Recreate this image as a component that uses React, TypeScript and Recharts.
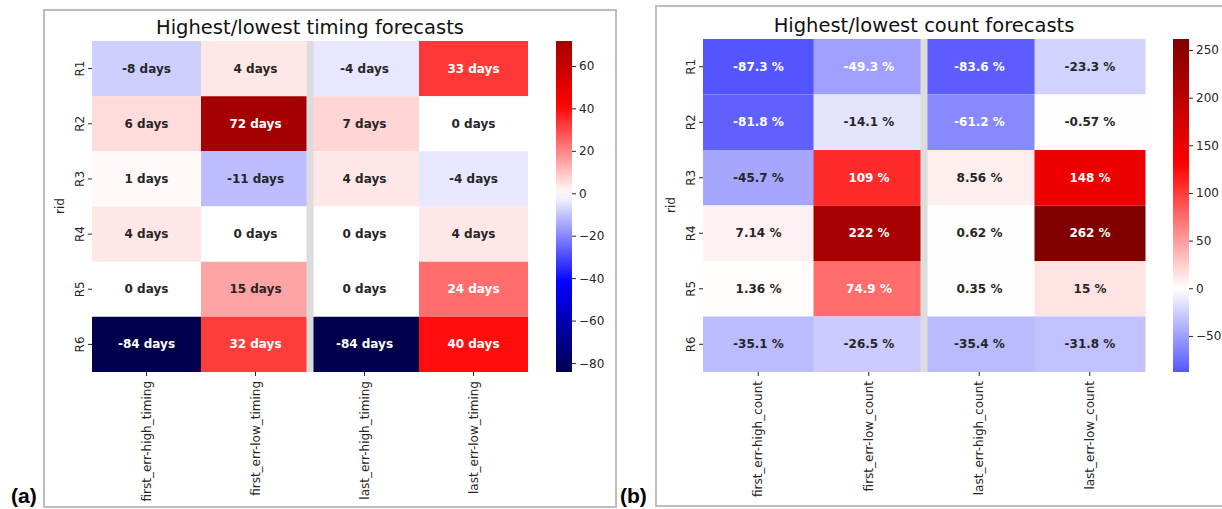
import React from "react";
import { BarChart, Bar, XAxis, YAxis, Cell, LabelList, ReferenceLine } from "recharts";

const ROWS = ["R1", "R2", "R3", "R4", "R5", "R6"];

const TIMING_COLS = ["first_err-high_timing", "first_err-low_timing", "last_err-high_timing", "last_err-low_timing"];
const firstHighTiming = [-8, 6, 1, 4, 0, -84];
const firstLowTiming = [4, 72, -11, 0, 15, 32];
const lastHighTiming = [-4, 7, 4, 0, 0, -84];
const lastLowTiming = [33, 0, -4, 4, 24, 40];
const TIMING_TICKS = [-80, -60, -40, -20, 0, 20, 40, 60];

const COUNT_COLS = ["first_err-high_count", "first_err-low_count", "last_err-high_count", "last_err-low_count"];
const firstHighCount = [-87.3, -81.8, -45.7, 7.14, 1.36, -35.1];
const firstLowCount = [-49.3, -14.1, 109, 222, 74.9, -26.5];
const lastHighCount = [-83.6, -61.2, 8.56, 0.62, 0.35, -35.4];
const lastLowCount = [-23.3, -0.57, 148, 262, 15, -31.8];
const COUNT_TICKS = [-50, 0, 50, 100, 150, 200, 250];

const FONT = "'DejaVu Sans', sans-serif";
const DARK = "#262626";

// matplotlib "seismic"
const SEISMIC = [
  [0, 0, 0.3],
  [0, 0, 1],
  [1, 1, 1],
  [1, 0, 0],
  [0.5, 0, 0],
];

function seismic(t: number) {
  const tt = Math.max(0, Math.min(1, t)) * 4;
  const i = Math.min(3, Math.floor(tt));
  const f = tt - i;
  const a = SEISMIC[i];
  const b = SEISMIC[i + 1];
  return a.map((c, k) => c + (b[k] - c) * f);
}

// seaborn-style centred norm (center = 0)
function colorFor(v: number, vmin: number, vmax: number) {
  const vr = Math.max(Math.abs(vmin), Math.abs(vmax));
  return seismic((v + vr) / (2 * vr));
}

const toCss = (c: number[]) =>
  `rgb(${c.map((x) => Math.round(x * 255)).join(",")})`;

function textColor(c: number[]) {
  const lin = c.map((x) => (x <= 0.03928 ? x / 12.92 : Math.pow((x + 0.055) / 1.055, 2.4)));
  const lum = 0.2126 * lin[0] + 0.7152 * lin[1] + 0.0722 * lin[2];
  return lum > 0.408 ? DARK : "#ffffff";
}

const minus = (v: number) => (v < 0 ? `\u2212${Math.abs(v)}` : `${v}`);
const fmtDays = (v: number) => `${v} days`;
const fmtPct = (v: number) => `${parseFloat(v.toPrecision(3))} %`;

function buildTable(cols: string[], series: number[][]) {
  return cols.map((name, ci) => {
    const row: Record<string, any> = { name };
    ROWS.forEach((r, ri) => {
      row[r] = series[ci][ri];
      row[r + "_u"] = 1;
    });
    return row;
  });
}

const timingData = buildTable(TIMING_COLS, [firstHighTiming, firstLowTiming, lastHighTiming, lastLowTiming]);
const countData = buildTable(COUNT_COLS, [firstHighCount, firstLowCount, lastHighCount, lastLowCount]);

const XTick = (props: any) => {
  const { x, y, payload } = props;
  return (
    <text
      transform={`translate(${x},${y + 3}) rotate(-90)`}
      textAnchor="end"
      dominantBaseline="central"
      fontSize={12}
      fontFamily={FONT}
      fill={DARK}
    >
      {payload.value}
    </text>
  );
};

const YTick = (props: any) => {
  const { x, y, payload } = props;
  return (
    <text
      transform={`translate(${x - 6},${y}) rotate(-90)`}
      textAnchor="middle"
      dominantBaseline="central"
      fontSize={12}
      fontFamily={FONT}
      fill={DARK}
    >
      {ROWS[Math.floor(payload.value)]}
    </text>
  );
};

const CbTick = (props: any) => {
  const { x, y, payload } = props;
  return (
    <text x={x} y={y} textAnchor="start" dominantBaseline="central" fontSize={12} fontFamily={FONT} fill={DARK}>
      {minus(payload.value)}
    </text>
  );
};

function Heatmap({
  data, vmin, vmax, fmt, width, height, margin, split,
}: {
  data: Record<string, any>[];
  vmin: number;
  vmax: number;
  fmt: (v: number) => string;
  width: number;
  height: number;
  margin: { top: number; right: number; bottom: number; left: number };
  split: string;
}) {
  return (
    <BarChart width={width} height={height} data={data} margin={margin} barCategoryGap={0} barGap={0}>
      <XAxis
        dataKey="name"
        interval={0}
        axisLine={false}
        tickSize={4}
        tickMargin={2}
        tickLine={{ stroke: DARK }}
        tick={XTick}
        height={130}
      />
      <YAxis
        type="number"
        domain={[0, 6]}
        reversed
        ticks={[0.5, 1.5, 2.5, 3.5, 4.5, 5.5]}
        interval={0}
        axisLine={false}
        tickSize={4}
        tickMargin={2}
        tickLine={{ stroke: DARK }}
        tick={YTick}
        width={40}
      />
      {ROWS.map((r) => (
        <Bar key={r} dataKey={r + "_u"} stackId="cells" isAnimationActive={false}>
          {data.map((d, i) => (
            <Cell key={i} fill={toCss(colorFor(d[r], vmin, vmax))} />
          ))}
          <LabelList
            dataKey={r}
            content={(p: any) => {
              const v = Number(p.value);
              const c = colorFor(v, vmin, vmax);
              return (
                <text
                  x={p.x + p.width / 2}
                  y={p.y + p.height / 2}
                  textAnchor="middle"
                  dominantBaseline="central"
                  fontSize={12}
                  fontWeight="bold"
                  fontFamily={FONT}
                  fill={textColor(c)}
                >
                  {fmt(v)}
                </text>
              );
            }}
          />
        </Bar>
      ))}
      <ReferenceLine x={split} position="start" stroke="#dcdcdc" strokeWidth={7} />
    </BarChart>
  );
}

function Colorbar({
  id, vmin, vmax, ticks, top,
}: { id: string; vmin: number; vmax: number; ticks: number[]; top: number }) {
  return (
    <BarChart
      width={80}
      height={509}
      data={[{ name: "cb", range: [vmin, vmax] }]}
      margin={{ top, right: 8, bottom: 137, left: 16 }}
      barCategoryGap={0}
    >
      <XAxis dataKey="name" hide />
      <YAxis
        orientation="right"
        type="number"
        domain={[vmin, vmax]}
        allowDataOverflow
        ticks={ticks}
        interval={0}
        axisLine={false}
        tickSize={4}
        tickMargin={3}
        tickLine={{ stroke: DARK }}
        tick={CbTick}
        width={40}
      />
      <Bar dataKey="range" fill={`url(#${id})`} isAnimationActive={false} />
    </BarChart>
  );
}

function Gradient({ id, vmin, vmax }: { id: string; vmin: number; vmax: number }) {
  const n = 40;
  const stops = Array.from({ length: n + 1 }, (_, i) => {
    const v = vmax - ((vmax - vmin) * i) / n;
    return <stop key={i} offset={`${(i / n) * 100}%`} stopColor={toCss(colorFor(v, vmin, vmax))} />;
  });
  return (
    <linearGradient id={id} x1="0" y1="0" x2="0" y2="1">
      {stops}
    </linearGradient>
  );
}

export default function App() {
  const tMin = Math.min(...firstHighTiming, ...firstLowTiming, ...lastHighTiming, ...lastLowTiming);
  const tMax = Math.max(...firstHighTiming, ...firstLowTiming, ...lastHighTiming, ...lastLowTiming);
  const cMin = Math.min(...firstHighCount, ...firstLowCount, ...lastHighCount, ...lastLowCount);
  const cMax = Math.max(...firstHighCount, ...firstLowCount, ...lastHighCount, ...lastLowCount);

  return (
    <div
      style={{
        position: "absolute",
        left: 0,
        top: 0,
        width: 1222,
        height: 509,
        overflow: "hidden",
        background: "#ffffff",
        fontFamily: FONT,
      }}
    >
      <svg width={0} height={0} style={{ position: "absolute" }}>
        <defs>
          <Gradient id="gradTiming" vmin={tMin} vmax={tMax} />
          <Gradient id="gradCount" vmin={cMin} vmax={cMax} />
        </defs>
      </svg>

      {/* panel frames */}
      <div style={{ position: "absolute", left: 43, top: 9, width: 570, height: 495, border: "2px solid #bdbdbd" }} />
      <div style={{ position: "absolute", left: 655, top: 5, width: 600, height: 498, border: "2px solid #bdbdbd" }} />

      <div style={{ position: "absolute", left: 0, top: 0 }}>
        <Heatmap
          data={timingData}
          vmin={tMin}
          vmax={tMax}
          fmt={fmtDays}
          width={545}
          height={509}
          margin={{ top: 41, right: 17, bottom: 7, left: 52 }}
          split={TIMING_COLS[2]}
        />
      </div>
      <div style={{ position: "absolute", left: 540, top: 0 }}>
        <Colorbar id="gradTiming" vmin={tMin} vmax={tMax} ticks={TIMING_TICKS} top={41} />
      </div>

      <div style={{ position: "absolute", left: 610, top: 0 }}>
        <Heatmap
          data={countData}
          vmin={cMin}
          vmax={cMax}
          fmt={fmtPct}
          width={550}
          height={509}
          margin={{ top: 39, right: 15, bottom: 7, left: 53 }}
          split={COUNT_COLS[2]}
        />
      </div>
      <div style={{ position: "absolute", left: 1157, top: 0 }}>
        <Colorbar id="gradCount" vmin={cMin} vmax={cMax} ticks={COUNT_TICKS} top={39} />
      </div>

      {/* titles and labels */}
      <svg width={1222} height={509} style={{ position: "absolute", left: 0, top: 0, pointerEvents: "none" }}>
        <text x={310} y={34} textAnchor="middle" fontSize={19.5} fontFamily={FONT} fill="#111">
          Highest/lowest timing forecasts
        </text>
        <text x={924} y={32} textAnchor="middle" fontSize={19.5} fontFamily={FONT} fill="#111">
          Highest/lowest count forecasts
        </text>
        <text transform="translate(60,206) rotate(-90)" textAnchor="middle" dominantBaseline="central" fontSize={12} fontFamily={FONT} fill={DARK}>
          rid
        </text>
        <text transform="translate(671,205) rotate(-90)" textAnchor="middle" dominantBaseline="central" fontSize={12} fontFamily={FONT} fill={DARK}>
          rid
        </text>
        <text x={11} y={503} fontSize={21} fontWeight="bold" fontFamily="'Liberation Sans', Arial, sans-serif" fill="#000">
          (a)
        </text>
        <text x={620} y={503} fontSize={21} fontWeight="bold" fontFamily="'Liberation Sans', Arial, sans-serif" fill="#000">
          (b)
        </text>
      </svg>
    </div>
  );
}
